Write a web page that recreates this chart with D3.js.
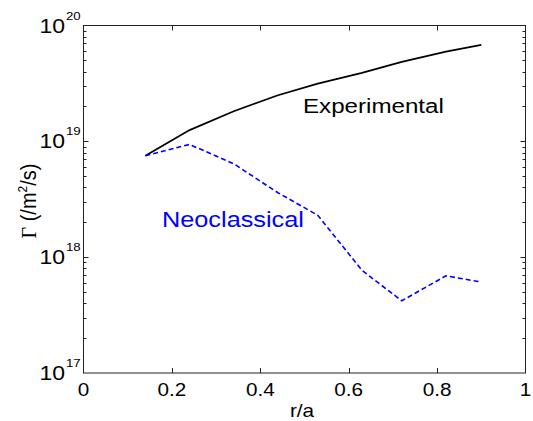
<!DOCTYPE html>
<html>
<head>
<meta charset="utf-8">
<script src="https://cdn.jsdelivr.net/npm/d3@7"></script>
<style>
  body { margin: 0; background: #fff; }
  text { font-family: Arial, "Liberation Sans", sans-serif; }
</style>
</head>
<body>
<svg id="chart" width="533" height="421"></svg>
<script>
// radial positions r/a
var rPos = [0.14, 0.24, 0.34, 0.44, 0.53, 0.63, 0.72, 0.82, 0.90];
// particle flux (m^-2 s^-1)
var experimental = [7.5e18, 1.25e19, 1.82e19, 2.5e19, 3.15e19, 3.9e19, 4.85e19, 5.95e19, 6.8e19];
var neoclassical = [7.5e18, 9.4e18, 6.4e18, 3.6e18, 2.3e18, 7.7e17, 4.2e17, 6.9e17, 6.1e17];
var xTicks = [0, 0.2, 0.4, 0.6, 0.8, 1];
var xTickLabels = ['0', '0.2', '0.4', '0.6', '0.8', '1'];
var yDecades = [17, 18, 19, 20];

// plot box (window.top is read-only, so own names)
var pLeft = 83.5, pRight = 525.5, pTop = 25.5, pBottom = 373;
var sx = 1.15; // picture is a bit stretched sideways

var svg = d3.select('#chart');
var x = d3.scaleLinear().domain([0, 1]).range([pLeft, pRight]);
var y = d3.scaleLog().domain([1e17, 1e20]).range([pBottom, pTop]);

// minor log ticks
var minor = [];
yDecades.slice(0, 3).forEach(function(d){
	for (var k = 2; k < 10; k++) minor.push(k * Math.pow(10, d));
});
var major = yDecades.map(function(d){ return Math.pow(10, d); });

var ax = svg.append('g').attr('stroke', '#222').attr('stroke-width', 1).attr('fill', 'none');
ax.append('rect').attr('x', pLeft).attr('y', pTop).attr('width', pRight - pLeft).attr('height', pBottom - pTop);

xTicks.slice(1, -1).forEach(function(t){
	var xx = Math.round(x(t)) + 0.5;
	ax.append('line').attr('x1', xx).attr('x2', xx).attr('y1', pBottom).attr('y2', pBottom - 5);
	ax.append('line').attr('x1', xx).attr('x2', xx).attr('y1', pTop).attr('y2', pTop + 5);
});
minor.forEach(function(v){
	var yy = Math.round(y(v)) + 0.5;
	ax.append('line').attr('x1', pLeft).attr('x2', pLeft + 3).attr('y1', yy).attr('y2', yy);
	ax.append('line').attr('x1', pRight).attr('x2', pRight - 3).attr('y1', yy).attr('y2', yy);
});
major.slice(1, -1).forEach(function(v){
	var yy = Math.round(y(v)) + 0.5;
	ax.append('line').attr('x1', pLeft).attr('x2', pLeft + 5).attr('y1', yy).attr('y2', yy);
	ax.append('line').attr('x1', pRight).attr('x2', pRight - 5).attr('y1', yy).attr('y2', yy);
});

function stretched(px, py, size, str, anchor, col) {
	var g = svg.append('g').attr('transform', 'translate(' + px + ',' + py + ') scale(' + sx + ',1)');
	return g.append('text').attr('font-size', size).attr('text-anchor', anchor || 'start')
		.attr('fill', col || '#000').text(str);
}

// x tick labels
xTicks.forEach(function(t, i){
	stretched(x(t), 396, 18, xTickLabels[i], 'middle');
});
// y tick labels 10^n
yDecades.forEach(function(d){
	var yy = y(Math.pow(10, d));
	stretched(65, yy + 7, 20, '10', 'end');
	stretched(66, yy - 6, 11.5, String(d), 'start');
});

// axis titles
stretched(302, 417, 18, 'r/a', 'middle');
var yl = svg.append('text').attr('transform', 'translate(36,201) rotate(-90) scale(1,1.1)')
	.attr('text-anchor', 'middle').attr('font-size', 20).attr('fill', '#000');
yl.append('tspan').attr('font-family', '"Liberation Serif", "Times New Roman", serif').text('Γ');
yl.append('tspan').text(' (/m');
yl.append('tspan').attr('font-size', 12).attr('dy', -8).text('2');
yl.append('tspan').attr('dy', 8).text('/s)');

var line = d3.line()
	.x(function(d){ return x(d[0]); })
	.y(function(d){ return y(d[1]); });

svg.append('path')
	.datum(d3.zip(rPos, experimental))
	.attr('d', line)
	.attr('fill', 'none').attr('stroke', '#000').attr('stroke-width', 1.7);

svg.append('path')
	.datum(d3.zip(rPos, neoclassical))
	.attr('d', line)
	.attr('fill', 'none').attr('stroke', '#0000ff').attr('stroke-width', 1.6)
	.attr('stroke-dasharray', '5,3');

stretched(303, 113, 21, 'Experimental', 'start');
stretched(162, 227, 22, 'Neoclassical', 'start', '#0000ff');
</script>
</body>
</html>
